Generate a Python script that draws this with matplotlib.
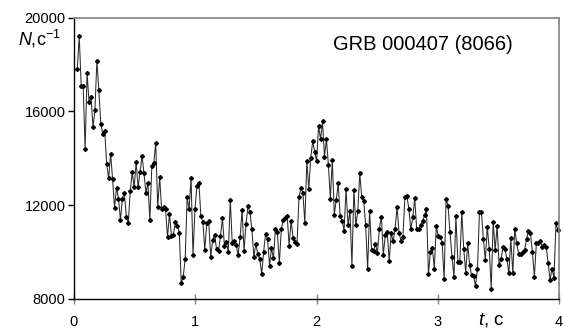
import matplotlib
matplotlib.use("Agg")
import matplotlib.pyplot as plt
import numpy as np

# light curve, counts per second
counts = [
    17800, 19200, 17100, 17100, 14400, 17650, 16400, 16600, 15350, 16050,
    18150, 16900, 15450, 15050, 15150, 13750, 13150, 14200, 13100, 11900,
    12750, 12280, 11370, 12280, 12520, 11510, 11250, 12600, 13400, 12760,
    13840, 12760, 13410, 14100, 13360, 12530, 12960, 11370, 13680, 13810,
    14660, 11910, 13200, 11820, 11910, 11820, 10630, 11640, 10690, 10740,
    11280, 11110, 10830, 8670, 8950, 9690, 12330, 11820, 13160, 9860,
    11850, 12820, 12960, 11540, 11300, 10090, 11250, 11310, 9800, 10510,
    10740, 10120, 10060, 10690, 11440, 10260, 10440, 10000, 12220, 10370,
    10490, 10300, 9875, 10630, 11790, 10060, 11180, 11960, 11700, 10970,
    9800, 10340, 9920, 9720, 9065, 10020, 10770, 10550, 9420, 10160,
    9735, 11000, 10840, 9520, 10980, 11370, 11440, 11540, 10270, 11340,
    10600, 10440, 10330, 12330, 12730, 12530, 11230, 13870, 12700, 14010,
    14720, 14270, 13870, 15380, 14810, 15575, 14070, 14810, 13725, 12280,
    13925, 11600, 12220, 12930, 11540, 11340, 10910, 12690, 11140, 11760,
    9405, 12650, 11140, 11760, 13360, 12330, 12190, 11140, 9265, 11760,
    10090, 10060, 10340, 9960, 11000, 11510, 9890, 10715, 10860, 9610,
    10800, 10460, 11000, 11935, 10830, 10490, 10660, 12330, 12390, 11850,
    10970, 11480, 12300, 11000, 10970, 11140, 11310, 11570, 11820, 9065,
    9990, 10190, 9290, 11110, 10690, 10660, 10370, 8840, 12280, 11960,
    10840, 9800, 8950, 11540, 9580, 9580, 11710, 10120, 9120, 10370,
    9435, 9010, 8980, 8550, 9290, 11710, 11710, 10550, 9660, 11080,
    10120, 8440, 11280, 10090, 11110, 9450, 9690, 10200, 10120, 9690,
    9095, 10580, 9095, 11000, 10370, 9920, 9920, 9990, 10090, 10550,
    10910, 10800, 9990, 8950, 10370, 10370, 10460, 10230, 10290, 10230,
    9550, 8810, 9290, 8895, 11230, 10940,
]
t_start = 0.027
t_step = 0.01618
x_ticks = [0, 1, 2, 3, 4]
y_ticks = [8000, 12000, 16000, 20000]
title_text = "GRB 000407 (8066)"

plt.rcParams['font.family'] = ['Liberation Sans', 'DejaVu Sans']
plt.rcParams['mathtext.fontset'] = 'custom'
plt.rcParams['mathtext.rm'] = 'Liberation Sans'
plt.rcParams['mathtext.it'] = 'Liberation Sans:italic'

t = t_start + t_step * np.arange(len(counts))

fig = plt.figure(figsize=(5.63, 3.31), dpi=100)
ax = fig.add_axes([74 / 563, 1 - 299 / 331, 485 / 563, 281.5 / 331])

ax.plot(t, counts, color='#2a2a2a', lw=0.75, marker='D', markersize=2.0,
        markerfacecolor='black', markeredgecolor='black', clip_on=False)

ax.set_xlim(0, 4)
ax.set_ylim(8000, 20000)
ax.set_xticks(x_ticks)
ax.set_yticks(y_ticks)
ax.set_xticklabels([str(v) for v in x_ticks])
ax.set_yticklabels([str(v) for v in y_ticks])

ax.tick_params(axis='x', direction='inout', length=7, width=1, color='#808080',
               labelsize=10.5, pad=8)
ax.tick_params(axis='y', direction='out', length=4, width=1, color='black',
               labelsize=10.5, pad=2)

for side in ['top', 'right']:
    ax.spines[side].set_color('#808080')
    ax.spines[side].set_linewidth(1.2)
for side in ['left', 'bottom']:
    ax.spines[side].set_color('black')
    ax.spines[side].set_linewidth(1.0)

ax.text(0.72, 0.905, title_text, transform=ax.transAxes, ha='center',
        va='center', fontsize=14.5)
fig.text(18 / 563, 1 - 39 / 331, r'$N$,c$^{-1}$', ha='left', va='center',
         fontsize=13)
fig.text(491 / 563, 1 - 320 / 331, r'$t$, c', ha='center', va='center',
         fontsize=13.5)

fig.savefig('out.png', dpi=100)
